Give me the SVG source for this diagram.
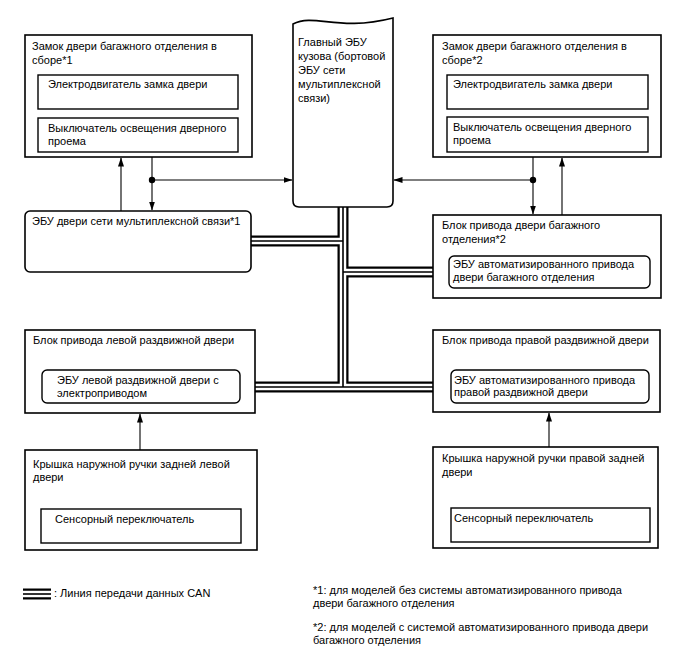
<svg xmlns="http://www.w3.org/2000/svg" width="688" height="658" viewBox="0 0 688 658">
<style>
text{font-family:"Liberation Sans",Arial,sans-serif;font-size:11px;fill:#000}
.box{fill:#fff;stroke:#000;stroke-width:1.6}
.ib{fill:#fff;stroke:#000;stroke-width:1.4}
.ln{fill:none;stroke:#000;stroke-width:1.1}
.canA{fill:none;stroke:#000;stroke-width:11}
.canB{fill:none;stroke:#fff;stroke-width:6.5}
.canC{fill:none;stroke:#000;stroke-width:1.6}
</style>
<defs>
<marker id="ah" markerUnits="userSpaceOnUse" markerWidth="9" markerHeight="7" refX="8.5" refY="3" orient="auto">
<path d="M0,0 L9,3 L0,6 z" fill="#000"/>
</marker>
<path id="canpath" d="M343,207 V387 M251,241 H343 M343,272 H433 M255,387 H433"/>
</defs>
<rect width="688" height="658" fill="#fff"/>

<g id="connectors">
<use href="#canpath" class="canA"/>
<use href="#canpath" class="canB"/>
<use href="#canpath" class="canC"/>
<path class="ln" d="M121,211 V158" marker-end="url(#ah)"/>
<path class="ln" d="M152,157 V210" marker-end="url(#ah)"/>
<path class="ln" d="M152,180 H292" marker-end="url(#ah)"/>
<circle cx="152" cy="180" r="3.2" fill="#000"/>
<path class="ln" d="M533,157 V214" marker-end="url(#ah)"/>
<path class="ln" d="M562,215 V158" marker-end="url(#ah)"/>
<path class="ln" d="M533,180 H394" marker-end="url(#ah)"/>
<circle cx="533" cy="180" r="3.2" fill="#000"/>
<path class="ln" d="M140,450 V414" marker-end="url(#ah)"/>
<path class="ln" d="M549,450 V413" marker-end="url(#ah)"/>
</g>

<g id="lock1">
<rect class="box" x="25" y="35" width="227" height="122"/>
<text x="32" y="50">Замок двери багажного отделения в</text>
<text x="32" y="64">сборе*1</text>
<rect class="ib" x="38" y="75" width="200" height="34"/>
<text x="48" y="88">Электродвигатель замка двери</text>
<rect class="ib" x="38" y="118" width="200" height="34"/>
<text x="48" y="132">Выключатель освещения дверного</text>
<text x="48" y="145">проема</text>
</g>

<g id="mainecu">
<path class="box" d="M293,24 C315,13 338,32 393,18 V201 Q393,207 387,207 H299 Q293,207 293,201 Z"/>
<text x="298" y="46">Главный ЭБУ</text>
<text x="298" y="60">кузова (бортовой</text>
<text x="298" y="74">ЭБУ сети</text>
<text x="298" y="88">мультиплексной</text>
<text x="298" y="102">связи)</text>
</g>

<g id="lock2">
<rect class="box" x="433" y="35" width="228" height="122"/>
<text x="442" y="50">Замок двери багажного отделения в</text>
<text x="442" y="64">сборе*2</text>
<rect class="ib" x="447" y="75" width="201" height="34"/>
<text x="453" y="88">Электродвигатель замка двери</text>
<rect class="ib" x="447" y="117" width="201" height="35"/>
<text x="453" y="131">Выключатель освещения дверного</text>
<text x="453" y="144">проема</text>
</g>

<g id="doorecu1">
<rect class="box" x="25" y="211" width="226" height="61" rx="5"/>
<text x="32" y="225">ЭБУ двери сети мультиплексной связи*1</text>
</g>

<g id="backdoor2">
<rect class="box" x="433" y="215" width="228" height="83"/>
<text x="442" y="229">Блок привода двери багажного</text>
<text x="442" y="243">отделения*2</text>
<rect class="ib" x="449" y="256" width="201" height="32" rx="5"/>
<text x="453" y="268">ЭБУ автоматизированного привода</text>
<text x="453" y="281">двери багажного отделения</text>
</g>

<g id="leftslide">
<rect class="box" x="25" y="330" width="230" height="83"/>
<text x="33" y="344">Блок привода левой раздвижной двери</text>
<rect class="ib" x="42" y="370" width="198" height="33" rx="5"/>
<text x="57" y="384">ЭБУ левой раздвижной двери с</text>
<text x="57" y="397">электроприводом</text>
</g>

<g id="rightslide">
<rect class="box" x="433" y="330" width="227" height="82"/>
<text x="442" y="344">Блок привода правой раздвижной двери</text>
<rect class="ib" x="451" y="370" width="198" height="33" rx="5"/>
<text x="454" y="384">ЭБУ автоматизированного привода</text>
<text x="454" y="396">правой раздвижной двери</text>
</g>

<g id="lefthandle">
<rect class="box" x="25" y="450" width="232" height="100"/>
<text x="33" y="468">Крышка наружной ручки задней левой</text>
<text x="33" y="481">двери</text>
<rect class="ib" x="41" y="509" width="200" height="34"/>
<text x="55" y="523">Сенсорный переключатель</text>
</g>

<g id="righthandle">
<rect class="box" x="433" y="447" width="225" height="101"/>
<text x="442" y="462">Крышка наружной ручки правой задней</text>
<text x="442" y="476">двери</text>
<rect class="ib" x="451" y="508" width="199" height="34"/>
<text x="454" y="522">Сенсорный переключатель</text>
</g>

<g id="legend">
<path class="canA" d="M23,594 H51"/>
<path class="canB" d="M23,594 H51"/>
<path class="canC" d="M23,594 H51"/>
<text x="54" y="597">: Линия передачи данных CAN</text>
<text x="313" y="594">*1: для моделей без системы автоматизированного привода</text>
<text x="313" y="607">двери багажного отделения</text>
<text x="313" y="631">*2: для моделей с системой автоматизированного привода двери</text>
<text x="313" y="644">багажного отделения</text>
</g>
</svg>
